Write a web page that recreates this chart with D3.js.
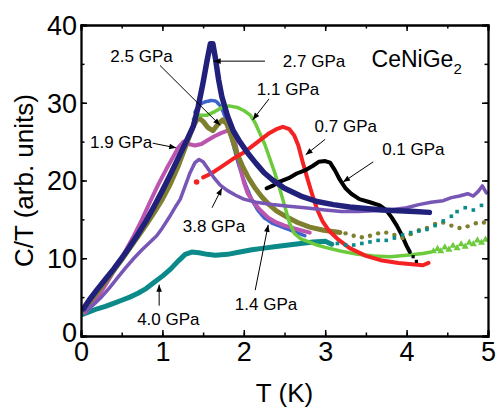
<!DOCTYPE html>
<meta charset="utf-8">
<script src="https://d3js.org/d3.v7.min.js"></script>
<style>
  body { margin: 0; background: #fff; }
  text { font-family: "Liberation Sans", Arial, sans-serif; fill: #000; }
</style>
<body>
<script>

// chart size
var width = 497,
    height = 408;

// ---- data: [T (K), C/T (arb. units)] ----
var s01 = [[2.28,19.0],[2.35,19.3],[2.45,19.9],[2.55,20.3],[2.65,20.9],[2.75,21.3],[2.85,21.9],[2.92,22.4],[3.0,22.5],[3.06,22.3],[3.12,21.3],[3.18,20.1],[3.25,19.0],[3.32,18.3],[3.42,17.6],[3.55,17.2],[3.67,16.8],[3.75,16.2],[3.82,15.2],[3.88,14.2],[3.94,13.0],[4.0,11.6],[4.04,10.8]];
var s01dots = [[4.08,10.2],[4.12,9.6]];

var s07 = [[1.50,20.4],[1.6,20.9],[1.7,21.6],[1.8,22.3],[1.9,23.0],[2.0,23.6],[2.1,24.4],[2.2,25.2],[2.3,26.0],[2.4,26.6],[2.48,26.9],[2.56,26.6],[2.62,25.8],[2.67,24.5],[2.72,22.5],[2.78,20.3],[2.84,18.2],[2.9,16.3],[2.97,14.7],[3.05,13.5],[3.15,12.5],[3.3,11.3],[3.5,10.3],[3.7,9.7],[3.9,9.4],[4.1,9.2],[4.2,9.1],[4.27,9.4]];
var s07dots = [[1.42,19.8]];

var s11 = [[1.38,27.9],[1.45,28.4],[1.55,28.4],[1.65,28.9],[1.75,29.5],[1.82,29.6],[1.92,29.4],[2.0,29.0],[2.08,28.4],[2.14,27.4],[2.2,26.0],[2.26,24.6],[2.32,22.8],[2.38,21.0],[2.44,19.0],[2.5,16.8],[2.56,14.6],[2.62,13.2],[2.7,12.5],[2.8,12.1],[2.9,11.7],[3.0,11.4],[3.2,10.9],[3.4,10.5],[3.6,10.3],[3.8,10.2],[4.0,10.4],[4.2,10.6],[4.3,10.8]];
var s11dots = [[4.33,10.9],[4.38,11.2],[4.42,10.9],[4.47,11.4],[4.52,11.1],[4.57,11.6],[4.62,11.3],[4.67,11.8],[4.72,11.5],[4.77,12.0],[4.82,11.8],[4.87,12.3],[4.92,12.0],[4.97,12.4]];

var s14 = [[1.40,28.8],[1.46,29.8],[1.52,30.1],[1.6,30.3],[1.66,30.2],[1.72,29.5],[1.77,28.2],[1.82,26.5],[1.87,24.6],[1.92,22.6],[1.98,20.6],[2.04,19.0],[2.1,17.5],[2.17,16.2],[2.25,15.2],[2.35,14.5],[2.45,14.1],[2.55,13.7],[2.65,13.3],[2.75,12.9]];

var s19 = [[0.05,3.0],[0.15,4.2],[0.25,5.7],[0.35,7.4],[0.45,9.2],[0.55,11.0],[0.65,12.9],[0.75,15.0],[0.85,17.3],[0.95,19.5],[1.05,21.5],[1.13,23.0],[1.2,24.3],[1.26,25.0],[1.32,24.7],[1.4,24.5],[1.48,24.7],[1.56,25.2],[1.64,25.7],[1.72,26.1],[1.8,26.4],[1.86,26.2],[1.9,24.6],[1.95,22.0],[2.0,19.8],[2.05,18.3],[2.12,17.2],[2.2,16.2],[2.3,15.2],[2.4,14.6],[2.5,14.2],[2.6,13.9],[2.7,13.6],[2.81,13.3]];

var s25 = [[0.03,3.3],[0.1,4.3],[0.2,5.6],[0.3,7.0],[0.4,8.4],[0.5,9.8],[0.6,11.3],[0.7,12.8],[0.8,14.3],[0.9,15.9],[1.0,17.6],[1.1,19.6],[1.2,22.0],[1.3,24.8],[1.38,27.0],[1.44,28.1],[1.5,27.6],[1.56,26.8],[1.62,26.4],[1.68,27.2],[1.74,27.8],[1.79,27.3],[1.85,25.6],[1.92,23.4],[1.99,21.7],[2.06,20.3],[2.14,19.0],[2.22,17.9],[2.3,17.0],[2.4,16.1],[2.53,15.3],[2.66,14.6],[2.81,14.0],[2.98,13.6],[3.18,13.3]];
var s25dots = [[3.25,13.2],[3.35,12.9],[3.45,12.7],[3.55,12.9],[3.65,13.2],[3.75,13.3],[3.85,13.0],[3.95,12.6],[4.05,13.1],[4.15,13.6],[4.25,13.9],[4.35,14.4],[4.45,14.6],[4.55,14.2],[4.65,13.9],[4.75,14.1],[4.85,14.5],[4.95,14.6]];

var s27 = [[0.03,3.5],[0.1,4.6],[0.2,6.0],[0.3,7.3],[0.4,8.6],[0.5,10.0],[0.6,11.5],[0.7,13.1],[0.8,14.8],[0.9,16.7],[1.0,18.7],[1.1,20.8],[1.2,23.0],[1.3,25.2],[1.38,27.0],[1.44,29.5],[1.5,32.6],[1.55,35.5],[1.59,37.6],[1.62,37.6],[1.65,35.8],[1.69,33.0],[1.73,30.8],[1.8,28.3],[1.87,26.4],[1.95,25.0],[2.05,23.5],[2.15,22.2],[2.25,21.0],[2.35,20.1],[2.5,19.0],[2.7,18.0],[2.9,17.3],[3.1,16.9],[3.3,16.6],[3.5,16.4],[3.7,16.2],[3.9,16.1],[4.1,16.0],[4.28,15.9]];

var s38 = [[0.06,3.2],[0.15,4.0],[0.25,5.0],[0.35,6.2],[0.45,7.5],[0.55,8.8],[0.65,10.0],[0.75,11.1],[0.85,12.1],[0.93,12.9],[1.0,13.9],[1.08,15.2],[1.16,16.6],[1.22,17.6],[1.28,19.3],[1.34,21.0],[1.4,22.3],[1.45,22.7],[1.5,22.4],[1.56,21.5],[1.63,20.4],[1.71,19.4],[1.8,18.7],[1.9,18.1],[2.0,17.6],[2.15,17.2],[2.35,16.9],[2.55,16.7],[2.75,16.5],[3.0,16.2],[3.2,16.0],[3.4,16.0],[3.6,16.1],[3.8,16.2],[4.0,16.5],[4.15,16.9],[4.3,17.2],[4.45,17.4],[4.55,17.8],[4.65,18.0],[4.75,18.3],[4.82,18.0],[4.88,18.6],[4.93,19.3],[4.98,18.4]];

var s40 = [[0.0,2.7],[0.1,3.1],[0.2,3.5],[0.3,3.8],[0.4,4.2],[0.5,4.6],[0.6,5.0],[0.7,5.5],[0.8,6.1],[0.9,6.9],[1.0,7.7],[1.1,8.6],[1.2,9.7],[1.28,10.5],[1.36,10.8],[1.45,10.7],[1.55,10.5],[1.65,10.4],[1.8,10.5],[1.95,10.8],[2.1,11.1],[2.25,11.3],[2.4,11.5],[2.55,11.7],[2.7,11.9],[2.85,12.1],[3.0,12.2],[3.08,11.8]];
var s40dots = [[3.15,11.9],[3.25,11.7],[3.35,11.7],[3.45,11.9],[3.55,12.1],[3.65,12.3],[3.75,12.3],[3.85,12.6],[3.95,13.0],[4.05,13.3],[4.15,13.5],[4.25,13.7],[4.35,14.2],[4.45,14.8],[4.55,15.4],[4.62,16.0],[4.72,16.5],[4.82,16.2],[4.92,16.8]];

// tick values
var xTicks = [0, 1, 2, 3, 4, 5];
var yTicks = [0, 10, 20, 30, 40];

// pressure labels: text, text anchor point, arrow start, arrow end (data units)
var labels = [
  { text: "2.5 GPa", at: [0.36, 35.3], from: [0.97, 34.8], to: [1.71, 27.1] },
  { text: "2.7 GPa", at: [2.48, 34.6], from: [2.26, 35.35], to: [1.63, 35.35] },
  { text: "1.1 GPa", at: [2.16, 31.0], from: [2.31, 30.5], to: [2.11, 27.8] },
  { text: "0.7 GPa", at: [2.87, 26.2], from: [3.0, 25.3], to: [2.76, 23.3] },
  { text: "0.1 GPa", at: [3.70, 23.3], from: [3.59, 22.4], to: [3.22, 19.8] },
  { text: "1.9 GPa", at: [0.11, 24.2], from: [0.88, 24.8], to: [1.17, 24.2] },
  { text: "3.8 GPa", at: [1.25, 13.4], from: [1.61, 16.5], to: [1.73, 19.0] },
  { text: "1.4 GPa", at: [1.89, 3.3], from: [2.14, 5.9], to: [2.30, 14.3] },
  { text: "4.0 GPa", at: [0.69, 1.4], from: [0.96, 3.9], to: [0.96, 6.6] }
];

var margin = { left: 81, right: 9, top: 25, bottom: 72 };

var svg = d3.select("body").append("svg")
    .attr("width", width)
    .attr("height", height);

var x = d3.scaleLinear().domain([0, 5]).range([margin.left, width - margin.right]);
var y = d3.scaleLinear().domain([0, 40]).range([height - margin.bottom, margin.top]);

var defs = svg.append("defs");

defs.append("clipPath")
    .attr("id", "plot")
  .append("rect")
    .attr("x", x(0)).attr("y", y(40))
    .attr("width", x(5) - x(0)).attr("height", y(0) - y(40));

defs.append("marker")
    .attr("id", "arrow")
    .attr("viewBox", "0 -5 10 10")
    .attr("refX", 10)
    .attr("refY", 0)
    .attr("markerUnits", "userSpaceOnUse")
    .attr("markerWidth", 9)
    .attr("markerHeight", 7)
    .attr("orient", "auto")
  .append("path")
    .attr("d", "M0,-4L10,0L0,4Z")
    .attr("fill", "#000");

var line = d3.line()
    .x(function(d) { return x(d[0]); })
    .y(function(d) { return y(d[1]); });

var plot = svg.append("g").attr("clip-path", "url(#plot)");

// draw order matters: later ones on top
var curves = [
  { data: s40, color: "#0c8a8a", w: 5 },
  { data: s14, color: "#3d63cc", w: 3.5, dash: "3,1.5" },
  { data: s19, color: "#bb55b0", w: 4 },
  { data: s25, color: "#7f7f30", w: 5 },
  { data: s11, color: "#6ccb3c", w: 3.5 },
  { data: s07, color: "#f42222", w: 4 },
  { data: s01, color: "#000000", w: 4 },
  { data: s38, color: "#7856b6", w: 3.5 },
  { data: s27, color: "#21217c", w: 5.5 }
];

curves.forEach(function(c) {
  plot.append("path")
      .datum(c.data)
      .attr("fill", "none")
      .attr("stroke", c.color)
      .attr("stroke-width", c.w)
      .attr("stroke-linejoin", "round")
      .attr("stroke-linecap", "round")
      .attr("stroke-dasharray", c.dash || null)
      .attr("d", line);
});

// sparse point tails
plot.selectAll(".olive").data(s25dots).enter().append("circle")
    .attr("cx", function(d) { return x(d[0]); })
    .attr("cy", function(d) { return y(d[1]); })
    .attr("r", 2.2)
    .attr("fill", "#7f7f30");

plot.selectAll(".teal").data(s40dots).enter().append("rect")
    .attr("x", function(d) { return x(d[0]) - 1.8; })
    .attr("y", function(d) { return y(d[1]) - 1.8; })
    .attr("width", 3.6).attr("height", 3.6)
    .attr("fill", "#0c8a8a");

plot.selectAll(".green").data(s11dots).enter().append("path")
    .attr("transform", function(d) { return "translate(" + x(d[0]) + "," + y(d[1]) + ")"; })
    .attr("d", d3.symbol().type(d3.symbolTriangle).size(22))
    .attr("fill", "#6ccb3c");

plot.selectAll(".black").data(s01dots).enter().append("rect")
    .attr("x", function(d) { return x(d[0]) - 1.6; })
    .attr("y", function(d) { return y(d[1]) - 1.6; })
    .attr("width", 3.2).attr("height", 3.2)
    .attr("fill", "#000");

plot.selectAll(".red").data(s07dots).enter().append("circle")
    .attr("cx", function(d) { return x(d[0]); })
    .attr("cy", function(d) { return y(d[1]); })
    .attr("r", 2.8)
    .attr("fill", "#f42222");

// axes: box with inward ticks on all four sides
var tickLen = 6, minorLen = 3.5;

svg.append("g")
    .attr("transform", "translate(0," + y(0) + ")")
    .call(d3.axisBottom(x).tickValues(d3.range(0, 5.01, 0.5)).tickSize(-minorLen).tickFormat(""));
svg.append("g")
    .attr("transform", "translate(0," + y(0) + ")")
    .call(d3.axisBottom(x).tickValues(xTicks).tickSize(-tickLen).tickFormat(d3.format("d")))
    .call(function(g) { g.selectAll("text").attr("dy", "0.71em").style("font-size", "27px").attr("y", 6); });

svg.append("g")
    .attr("transform", "translate(0," + y(40) + ")")
    .call(d3.axisTop(x).tickValues(d3.range(0, 5.01, 0.5)).tickSize(-minorLen).tickFormat(""));
svg.append("g")
    .attr("transform", "translate(0," + y(40) + ")")
    .call(d3.axisTop(x).tickValues(xTicks).tickSize(-tickLen).tickFormat(""));

svg.append("g")
    .attr("transform", "translate(" + x(0) + ",0)")
    .call(d3.axisLeft(y).tickValues(d3.range(0, 40.1, 5)).tickSize(-minorLen).tickFormat(""));
svg.append("g")
    .attr("transform", "translate(" + x(0) + ",0)")
    .call(d3.axisLeft(y).tickValues(yTicks).tickSize(-tickLen).tickFormat(d3.format("d")))
    .call(function(g) {
      g.selectAll("text").style("font-size", "27px").attr("x", -4)
        .attr("dy", function(d) { return d === 0 ? "0.2em" : "0.35em"; });
    });

svg.append("g")
    .attr("transform", "translate(" + x(5) + ",0)")
    .call(d3.axisRight(y).tickValues(d3.range(0, 40.1, 5)).tickSize(-minorLen).tickFormat(""));
svg.append("g")
    .attr("transform", "translate(" + x(5) + ",0)")
    .call(d3.axisRight(y).tickValues(yTicks).tickSize(-tickLen).tickFormat(""));

svg.selectAll(".domain").attr("stroke", "#000").attr("stroke-width", 1.8);
svg.selectAll(".tick line").attr("stroke", "#000").attr("stroke-width", 1.5);

// axis titles
svg.append("text")
    .attr("x", (x(0) + x(5)) / 2)
    .attr("y", 402)
    .attr("text-anchor", "middle")
    .style("font-size", "26px")
    .text("T (K)");

svg.append("text")
    .attr("transform", "translate(33," + (y(0) + y(40)) / 2 + ") rotate(-90)")
    .attr("text-anchor", "middle")
    .style("font-size", "26px")
    .text("C/T (arb. units)");

// compound name
var compound = svg.append("text")
    .attr("x", x(3.57))
    .attr("y", y(34.6))
    .style("font-size", "23px")
    .text("CeNiGe");
compound.append("tspan")
    .attr("dy", 7)
    .style("font-size", "15px")
    .text("2");

// pressure labels with arrows
labels.forEach(function(l) {
  svg.append("line")
      .attr("x1", x(l.from[0])).attr("y1", y(l.from[1]))
      .attr("x2", x(l.to[0])).attr("y2", y(l.to[1]))
      .attr("stroke", "#000")
      .attr("stroke-width", 1)
      .attr("marker-end", "url(#arrow)");
  svg.append("text")
      .attr("x", x(l.at[0]))
      .attr("y", y(l.at[1]))
      .style("font-size", "17px")
      .text(l.text);
});

</script>
</body>
